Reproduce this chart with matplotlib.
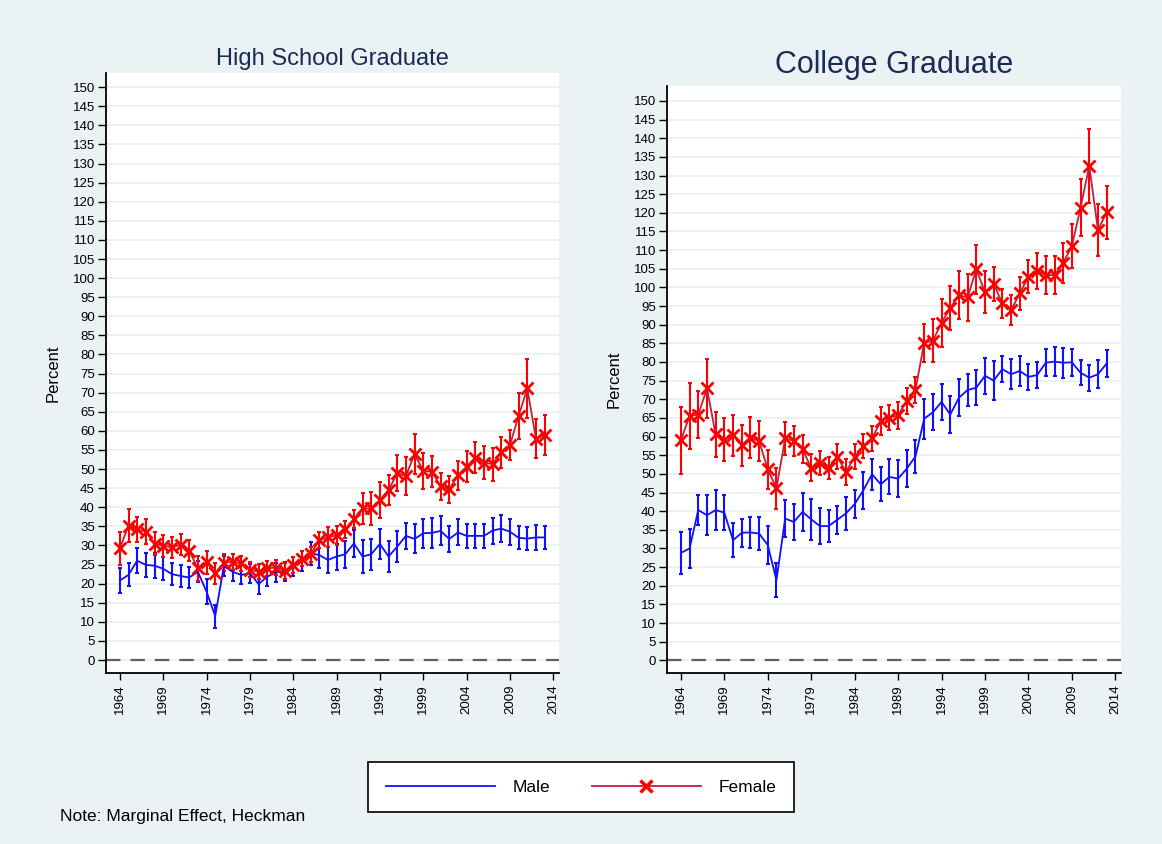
import matplotlib
matplotlib.use("Agg")
import matplotlib.pyplot as plt
from matplotlib.lines import Line2D
import numpy as np

plt.rcParams['font.family'] = ['Liberation Sans', 'DejaVu Sans']

years = list(range(1964, 2014))

# High school graduate: marginal effect and half-width of the interval
hs_male = [20.8, 22.3, 26.0, 24.9, 24.7, 23.9, 22.5, 22.0, 21.6, 23.1,
           17.9, 11.5, 24.6, 23.1, 22.3, 22.7, 19.9, 21.8, 23.0, 23.1,
           24.4, 26.0, 27.9, 27.5, 26.2, 27.1, 27.7, 30.5, 27.1, 27.7,
           30.4, 27.1, 29.7, 32.5, 31.7, 33.2, 33.3, 33.8, 31.7, 33.4,
           32.5, 32.5, 32.5, 33.9, 34.4, 33.6, 32.0, 31.8, 32.1, 32.1]
hs_male_err = [3.3, 3.0, 3.2, 3.1, 3.2, 3.0, 2.8, 2.8, 2.8, 2.8,
               3.2, 3.0, 2.6, 2.5, 2.5, 2.5, 2.6, 2.5, 2.5, 2.5,
               2.5, 2.6, 3.0, 3.5, 3.5, 3.4, 3.5, 3.5, 4.4, 4.0,
               4.0, 4.0, 4.0, 3.5, 3.8, 3.8, 4.0, 3.8, 3.4, 3.4,
               3.2, 3.2, 3.2, 3.4, 3.5, 3.4, 3.0, 3.0, 3.2, 3.0]
hs_female = [29.2, 35.2, 34.2, 33.6, 30.5, 29.9, 29.5, 30.2, 28.6, 24.0,
             25.6, 22.7, 25.5, 25.7, 25.3, 23.7, 23.1, 24.0, 24.2, 23.3,
             24.9, 26.5, 27.7, 31.4, 32.1, 32.7, 34.2, 36.9, 39.7, 39.7,
             41.9, 44.5, 48.9, 48.2, 53.9, 49.5, 49.3, 45.5, 44.7, 48.4,
             50.6, 53.0, 51.7, 51.3, 54.4, 56.3, 63.9, 71.1, 58.0, 58.9]
hs_female_err = [4.4, 4.3, 3.2, 3.2, 3.0, 2.8, 2.8, 2.8, 2.8, 3.3,
                 3.0, 2.8, 2.2, 2.0, 2.0, 2.0, 2.0, 2.0, 2.0, 2.0,
                 2.0, 2.0, 2.0, 2.2, 2.6, 2.5, 2.3, 2.3, 4.0, 4.3,
                 4.7, 4.0, 4.7, 5.0, 5.3, 4.7, 4.0, 3.5, 3.5, 3.8,
                 4.0, 4.0, 4.3, 4.3, 4.0, 4.0, 6.0, 7.7, 5.0, 5.3]

# College graduate
col_male = [28.8, 30.0, 40.3, 38.9, 40.3, 39.6, 32.2, 34.2, 34.3, 34.0,
            30.9, 21.5, 38.0, 37.1, 39.8, 37.8, 36.0, 36.0, 37.7, 39.4,
            41.9, 45.6, 49.9, 47.2, 49.2, 48.7, 51.4, 54.7, 64.8, 66.5,
            69.3, 65.9, 70.4, 72.5, 73.1, 76.3, 75.0, 78.1, 76.7, 77.6,
            76.0, 76.5, 79.8, 80.1, 79.8, 79.9, 77.1, 75.8, 76.7, 79.6]
col_male_err = [5.6, 5.2, 4.0, 5.4, 5.4, 4.7, 4.6, 3.8, 4.2, 4.5,
                5.1, 4.6, 4.9, 4.8, 5.2, 5.5, 4.8, 4.4, 3.8, 4.5,
                3.8, 4.9, 4.2, 4.6, 4.7, 5.0, 5.0, 4.4, 5.4, 4.8,
                4.8, 5.0, 5.0, 4.3, 4.7, 4.9, 5.2, 3.5, 4.0, 4.0,
                3.5, 3.5, 3.6, 3.8, 4.0, 3.6, 3.4, 3.5, 3.8, 3.6]
col_female = [59.0, 65.5, 65.9, 72.9, 60.6, 59.2, 60.4, 57.7, 59.7, 58.8,
              51.2, 46.2, 59.5, 58.9, 56.6, 51.6, 52.8, 51.6, 54.6, 50.5,
              54.6, 57.5, 59.5, 64.2, 65.1, 65.7, 69.6, 72.5, 85.2, 85.7,
              90.5, 94.5, 97.9, 97.3, 104.9, 98.7, 100.9, 95.7, 93.9, 98.4,
              102.9, 104.5, 103.3, 103.3, 106.6, 111.1, 121.4, 132.6, 115.4, 120.1]
col_female_err = [9.0, 8.9, 6.4, 8.0, 6.0, 5.7, 5.5, 5.5, 5.5, 5.4,
                  5.3, 5.5, 4.5, 4.0, 3.7, 3.6, 3.2, 3.0, 3.3, 3.4,
                  3.3, 3.2, 3.3, 3.8, 3.4, 3.6, 3.5, 3.6, 5.1, 5.8,
                  6.5, 5.8, 6.4, 6.4, 6.6, 5.6, 4.5, 4.0, 4.0, 4.5,
                  4.5, 4.8, 5.2, 5.2, 5.3, 6.0, 7.6, 10.0, 6.9, 7.2]

bg = '#eaf2f3'
male_c = '#1010ff'
fem_line = '#c41e40'
fem_mark = '#ff0000'
title_c = '#1a2b57'

fig = plt.figure(figsize=(11.62, 8.44), dpi=100, facecolor=bg)
ax1 = fig.add_axes([0.0912, 0.2026, 0.3898, 0.7109])
ax2 = fig.add_axes([0.5740, 0.2026, 0.3907, 0.6955])


def draw(ax, male, male_err, fem, fem_err, title, tsize, tpad, top):
    ax.set_facecolor('white')
    ax.errorbar(years, male, yerr=male_err, fmt='none', ecolor=male_c,
                elinewidth=1.5, capsize=1.5, capthick=1.5, zorder=2)
    ax.errorbar(years, fem, yerr=fem_err, fmt='none', ecolor=fem_mark,
                elinewidth=1.5, capsize=1.5, capthick=1.5, zorder=2)
    ax.plot(years, male, color=male_c, lw=1.3, zorder=3)
    ax.plot(years, fem, color=fem_line, lw=1.3, marker='x', ms=8,
            mec=fem_mark, mew=2, zorder=4)
    ax.axhline(0, color='#606060', lw=1.6, ls=(0, (6.5, 4.5)), zorder=1)

    ax.set_xlim(1962.4, 2014.65)
    ax.set_ylim(-3.4, top)
    ax.set_yticks(np.arange(0, 151, 5))
    ax.set_xticks(np.arange(1964, 2015, 5))
    ax.grid(axis='y', color=bg, lw=1.5, zorder=0)
    ax.set_axisbelow(True)
    for s in ['top', 'right']:
        ax.spines[s].set_visible(False)
    for s in ['left', 'bottom']:
        ax.spines[s].set_linewidth(1.3)
    ax.tick_params(axis='y', direction='out', length=6, width=1, pad=2,
                   labelsize=9.5)
    ax.tick_params(axis='x', direction='out', length=5, width=1, pad=3,
                   labelsize=9.5, labelrotation=90)
    ax.set_ylabel('Percent', fontsize=12)
    ax.yaxis.set_label_coords(-0.101, 0.5)
    ax.set_title(title, fontsize=tsize, color=title_c, pad=tpad)


draw(ax1, hs_male, hs_male_err, hs_female, hs_female_err,
     'High School Graduate', 17, 5.5, 153.7)
draw(ax2, col_male, col_male_err, col_female, col_female_err,
     'College Graduate', 22, 9.5, 154.0)

handles = [Line2D([], [], color=male_c, lw=1.3),
           Line2D([], [], color=fem_line, lw=1.3, marker='x', ms=8,
                  mec=fem_mark, mew=2.5)]
leg = fig.legend(handles, ['Male', 'Female'], loc='center',
                 bbox_to_anchor=(0.5, 0.0675), ncol=2, fontsize=12.5,
                 frameon=True, fancybox=False, edgecolor='black',
                 facecolor='white', framealpha=1,
                 handlelength=6.3, handletextpad=1.0, columnspacing=2.4,
                 borderpad=1.0)
leg.get_frame().set_linewidth(1.2)

fig.text(60 / 1162, 1 - 817 / 844, 'Note: Marginal Effect, Heckman',
         fontsize=12.5, va='center', ha='left')

fig.savefig('out.png', dpi=100, facecolor=bg)
